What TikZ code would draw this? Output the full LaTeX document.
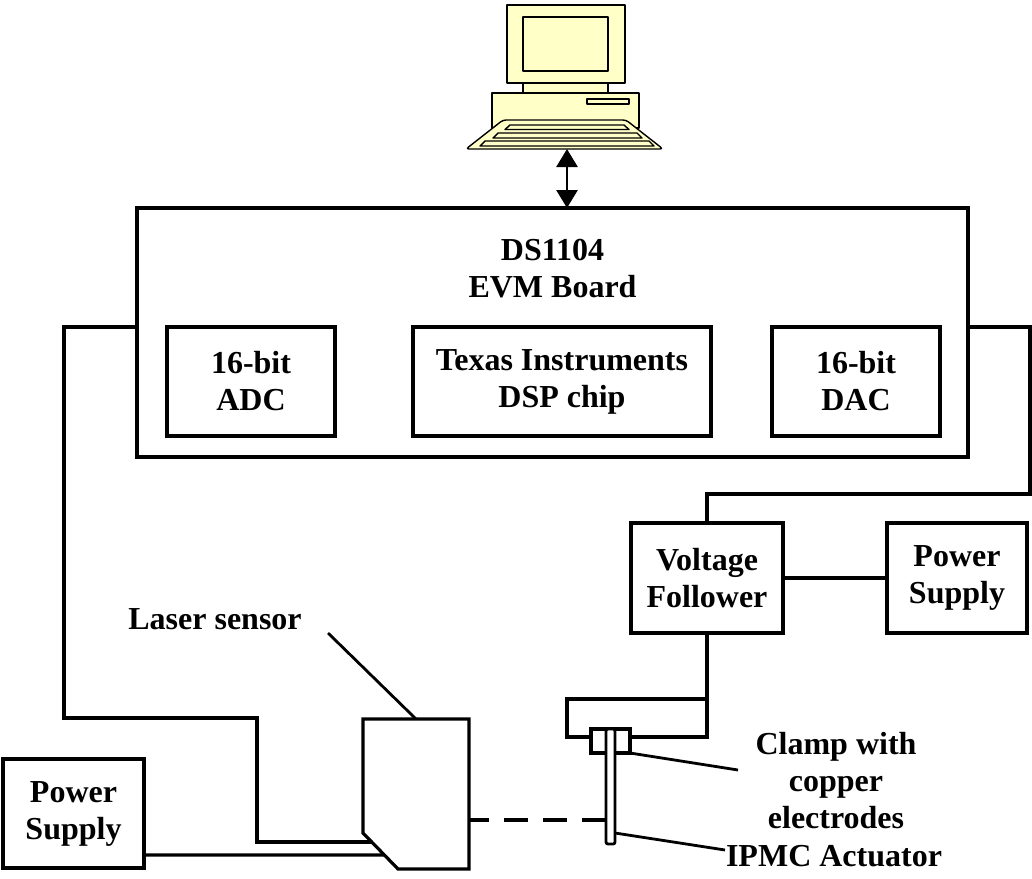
\documentclass[tikz,border=0pt]{standalone}
\usepackage{fontspec}
\setmainfont{Liberation Serif}
\usetikzlibrary{arrows.meta,calc}
\definecolor{pcyellow}{RGB}{255,255,200}
\begin{document}
\begin{tikzpicture}[x=1pt,y=-1pt,
  every node/.style={outer sep=0pt, inner sep=0pt},
  lbl/.style={font=\bfseries\fontsize{32}{37}\selectfont, align=center},
  blk/.style={lbl, draw, line width=3.2pt},
  wire/.style={line width=3.2pt, line join=miter},
  leader/.style={line width=2.8pt},
  pcline/.style={line width=1.4pt, fill=pcyellow, line join=round},
  bigtip/.tip={Triangle[width=21pt,length=18pt]}]
\useasboundingbox (0,0) rectangle (1032,878);

% host computer
\draw[pcline] (507,5) rectangle (625,83);
\draw[pcline] (523,17) rectangle (608,71);
\draw[pcline] (523,83) rectangle (608,93);
\draw[pcline] (492,93) rectangle (639,128);
\draw[pcline] (587,99) rectangle (629,104);
\draw[pcline, rounded corners=3pt] (503,120) -- (626,120) -- (663,149) -- (466,149) -- cycle;
\draw[pcline] (510,125) -- (624,125) -- (629,129.5) -- (505,129.5) -- cycle;
\draw[pcline] (498,133) -- (637,133) -- (642,138) -- (493,138) -- cycle;
\draw[pcline] (485,141) -- (649,141) -- (654,146) -- (480,146) -- cycle;
\coordinate (pc) at (567,149);

% DS1104 board and its parts
\node[blk, minimum width=831pt, minimum height=249pt] (board) at (552.5,332.5) {};
\node[lbl] (boardname) at (552.5,269) {DS1104\\EVM Board};
\node[blk, minimum width=168pt, minimum height=109pt] (adc) at (251,381.5) {16-bit\\ADC};
\node[blk, minimum width=298pt, minimum height=109pt] (dsp) at (562,381.5) {Texas Instruments\\DSP chip};
\node[blk, minimum width=168pt, minimum height=109pt] (dac) at (856,381.5) {16-bit\\DAC};

\draw[bigtip-bigtip, line width=2.8pt] (pc) -- (pc |- board.north);

% laser sensor (chamfered housing)
\node[minimum width=106pt, minimum height=150pt] (sensor) at (416,794) {};
\coordinate (chA) at ($(sensor.south west)+(0,-36)$);
\coordinate (chB) at ($(sensor.south west)+(35,0)$);
\draw[wire] (sensor.north west) -- (sensor.north east) -- (sensor.south east) -- (chB) -- (chA) -- cycle;
\coordinate (adcin) at ($(chA)!0.25!(chB)$);
\coordinate (psin) at ($(chA)!0.611!(chB)$);

% power supplies and voltage follower
\node[blk, minimum width=141pt, minimum height=109pt] (psl) at (73.5,813.5) {Power\\Supply};
\node[blk, minimum width=152pt, minimum height=110pt] (vf) at (707,578) {Voltage\\Follower};
\node[blk, minimum width=140pt, minimum height=110pt] (psr) at (957,578) {Power\\Supply};

% clamp holder, clamp and IPMC strip
\node[draw, line width=3.2pt, minimum width=140pt, minimum height=38pt] (holder) at (637,718) {};
\node[draw, line width=3.2pt, fill=white, minimum width=39pt, minimum height=24pt] (clamp) at (610.5,741) {};
\node[draw, line width=2.8pt, fill=white, rounded corners=2pt, minimum width=9pt, minimum height=115pt] (strip) at (610.5,786.5) {};

% wiring
\draw[wire] (board.west |- adc.north) -- (64,327) -- (64,718) -- (257,718) -- (257,842) -- (adcin);
\draw[wire] ([yshift=-41.5pt]psl.east) -- (psin);
\draw[wire] (board.east |- dac.north) -- (1030,327) -- (1030,494) -- (707,494) -- (vf.north);
\draw[wire] (vf.east) -- (psr.west);
\draw[wire] (vf.south) -- (holder.north east);

% laser beam
\draw[wire, dash pattern=on 24pt off 15pt, dash phase=4pt] ([yshift=-26pt]sensor.east) -- ([yshift=-33.5pt]strip.west);

% labels and leaders
\node[lbl] (laserlbl) at (215,619) {Laser sensor};
\coordinate (laserlead) at (328,633);
\draw[leader] (laserlead) -- (sensor.north);
\node[lbl] (clamplbl) at (836,781) {Clamp with\\copper\\electrodes};
\coordinate (clamplead) at (738,770);
\draw[leader] (clamp.south east) -- (clamplead);
\node[lbl] (ipmclbl) at (834,856) {IPMC Actuator};
\coordinate (ipmclead) at (725,850);
\draw[leader] ([yshift=-46.5pt]strip.east) -- (ipmclead);
\end{tikzpicture}
\end{document}
